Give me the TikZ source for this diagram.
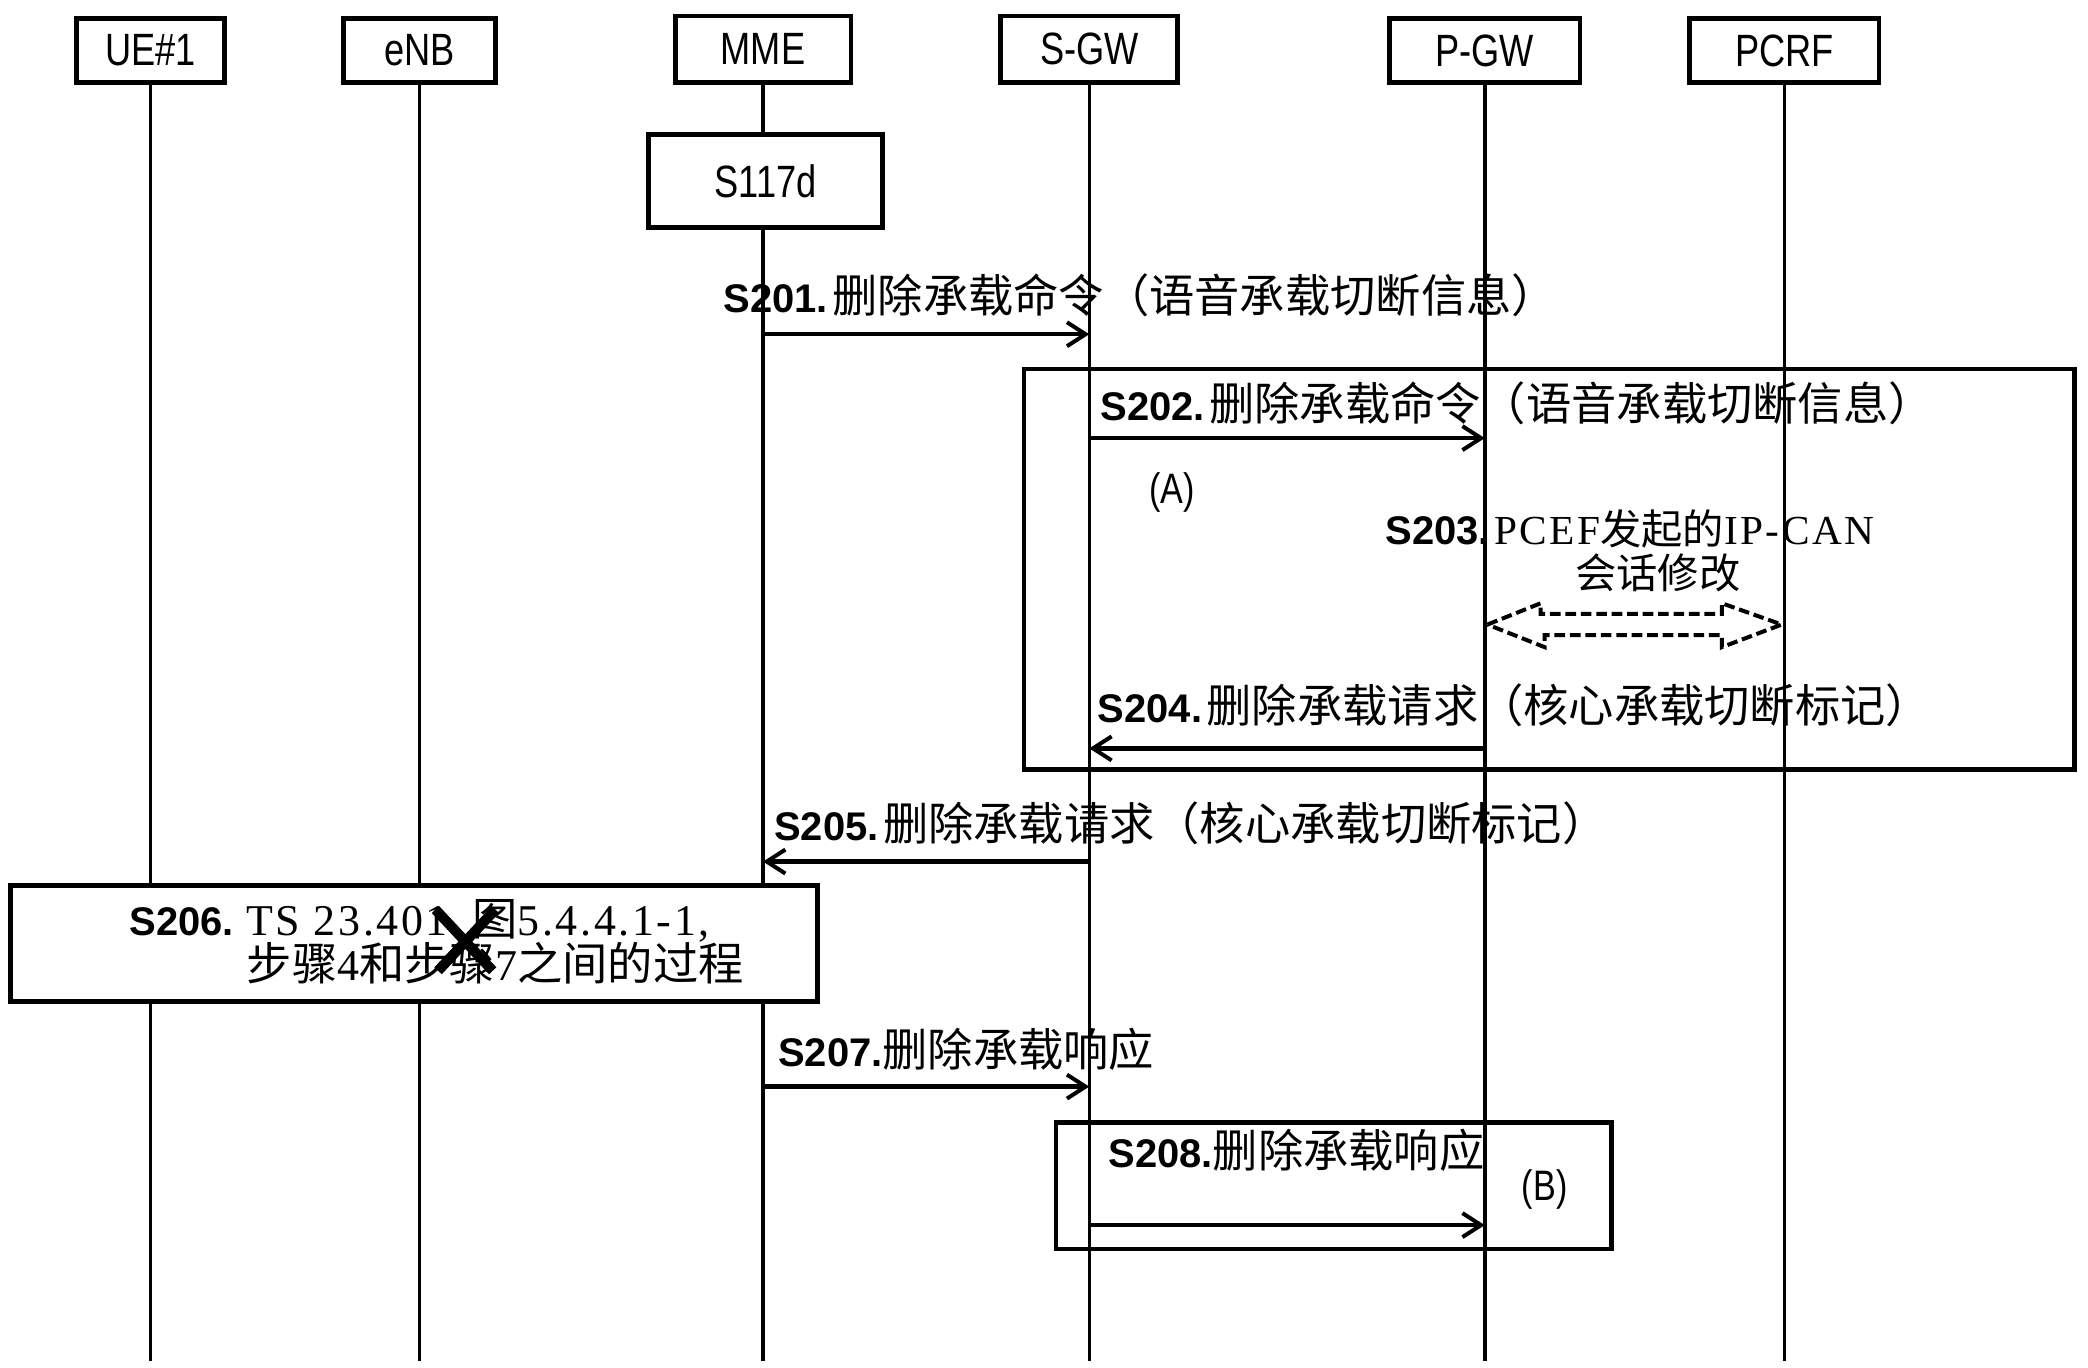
\documentclass[tikz,border=0pt]{standalone}
\usepackage{fontspec}
\setmainfont{Liberation Sans}
\newfontfamily\cjkf{Noto Sans CJK SC}
\newfontfamily\hdrf[FakeStretch=0.8]{Liberation Sans}
\newfontfamily\serf[LetterSpace=6]{Liberation Serif}
\usetikzlibrary{arrows.meta,calc}
\newcommand{\sn}[1]{{\bfseries\fontsize{15}{18}\selectfont #1}}
\newcommand{\cj}[1]{{\cjkf\fontsize{17}{18}\selectfont #1}}
\newcommand{\sr}[1]{{\serf\fontsize{16.5}{18}\selectfont #1}}
\newcommand{\cjs}[1]{{\cjkf\fontsize{15.5}{16}\selectfont #1}}
\newcommand{\srs}[1]{{\serf\fontsize{15.5}{16}\selectfont #1}}
\begin{document}
\begin{tikzpicture}[x=0.5pt,y=-0.5pt,
  hdrbox/.style={draw,line width=1.8pt,minimum height=24pt,inner sep=0pt,font=\hdrf\fontsize{17}{20}\selectfont},
  life/.style={line width=1.3pt},
  msg/.style={line width=1.6pt,-{Straight Barb[length=7pt,width=9pt,line width=1.5pt]}},
  framebox/.style={draw,line width=1.7pt},
  lbl/.style={anchor=west,inner sep=0pt},
  tag/.style={inner sep=0pt,font=\hdrf\fontsize{16}{19}\selectfont}]
\useasboundingbox (0,0) rectangle (1568,1027);
\fill[white] (0,0) rectangle (1568,1027);

% header boxes
\node[hdrbox,minimum width=55.5pt] (UE) at (113,38) {UE\#1};
\node[hdrbox,minimum width=57pt] (ENB) at (315,38) {eNB};
\node[hdrbox,minimum width=66pt,minimum height=25pt] (MME) at (573,37) {MME};
\node[hdrbox,minimum width=66.5pt,minimum height=25pt] (SGW) at (818,37) {S-GW};
\node[hdrbox,minimum width=71.5pt] (PGW) at (1115,38) {P-GW};
\node[hdrbox,minimum width=71pt] (PCRF) at (1340,38) {PCRF};
\node[hdrbox,minimum width=88pt,minimum height=35pt] (S117) at (575,136) {S117d};

\coordinate (bot) at (0,1022);

% lifelines
\draw[life] (UE.south) -- (UE |- bot);
\draw[life] (ENB.south) -- (ENB |- bot);
\draw[life] (MME.south) -- (MME |- S117.north);
\draw[life] (MME |- S117.south) -- (MME |- bot);
\draw[life] (SGW.south) -- (SGW |- bot);
\draw[life] (PGW.south) -- (PGW |- bot);
\draw[life] (PCRF.south) -- (PCRF |- bot);

% frames (A) and (B)
\draw[framebox] (769,277) rectangle (1558,578);
\draw[framebox] (793,843) rectangle (1210,938);

% S206 box
\node[draw,fill=white,line width=1.7pt,minimum width=303pt,minimum height=43.5pt,inner sep=0pt] (S206) at (311,708.5) {};

% message levels
\coordinate (y1) at (0,251);
\coordinate (y2) at (0,329);
\coordinate (y4) at (0,562);
\coordinate (y5) at (0,647);
\coordinate (y7) at (0,816);
\coordinate (y8) at (0,920);
\coordinate (y3) at (0,469);

\draw[msg] (MME |- y1) -- (SGW |- y1);
\draw[msg] (SGW |- y2) -- (PGW |- y2);
\draw[msg] (PGW |- y4) -- (SGW |- y4);
\draw[msg] (SGW |- y5) -- (MME |- y5);
\draw[msg] (MME |- y7) -- (SGW |- y7);
\draw[msg] (SGW |- y8) -- (PGW |- y8);

% dashed double block arrow
\coordinate (dl) at ($(PGW |- y3)+(2,0)$);
\coordinate (dr) at ($(PCRF |- y3)+(-2,0)$);
\draw[line width=1.5pt,dash pattern=on 4pt off 1.8pt,line join=miter]
  (dl) -- ++(40,-16) -- ++(0,8) -- ($(dr)+(-45,-8)$) -- ++(0,-8) -- (dr)
  -- ($(dr)+(-45,17)$) -- ++(0,-9) -- ($(dl)+(43,8)$) -- ++(0,9) -- cycle;

% labels
\node[lbl] (t201) at (543,222) {\sn{S201.}\,\cj{删除承载命令（语音承载切断信息）}};
\node[lbl] (t202) at (826,303) {\sn{S202.}\,\cj{删除承载命令（语音承载切断信息）}};
\node[tag] (lA) at (880,370) {(A)};
\node[lbl] (t203) at (1040,397) {\sn{S203.}\,\srs{PCEF}\cjs{发起的}\srs{IP-CAN}};
\node[inner sep=0pt] (t203b) at (1245,430) {\cjs{会话修改}};
\node[lbl] (t204) at (824,530) {\sn{S204.}\,\cj{删除承载请求（核心承载切断标记）}};
\node[lbl] (t205) at (581,618) {\sn{S205.}\,\cj{删除承载请求（核心承载切断标记）}};
\node[lbl,align=left,font=\fontsize{16.5}{17}\selectfont] (t206) at (97,707)
  {\sn{S206.}\ \sr{TS 23.401}\ \ \cj{图}\sr{5.4.4.1-1,}\\
   \hspace*{44pt}\cj{步骤}\sr{4}\cj{和步骤}\sr{7}\cj{之间的过程}};
\node[lbl] (t207) at (584,788) {\sn{S207.}\cj{删除承载响应}};
\node[lbl] (t208) at (832,864) {\sn{S208.}\cj{删除承载响应}};
\node[tag] (lB) at (1160,893) {(B)};

% cross mark
\draw[line width=3.8pt] (327,683) -- (370,729);
\draw[line width=3.8pt] (372,683) -- (329,729);
\end{tikzpicture}
\end{document}
